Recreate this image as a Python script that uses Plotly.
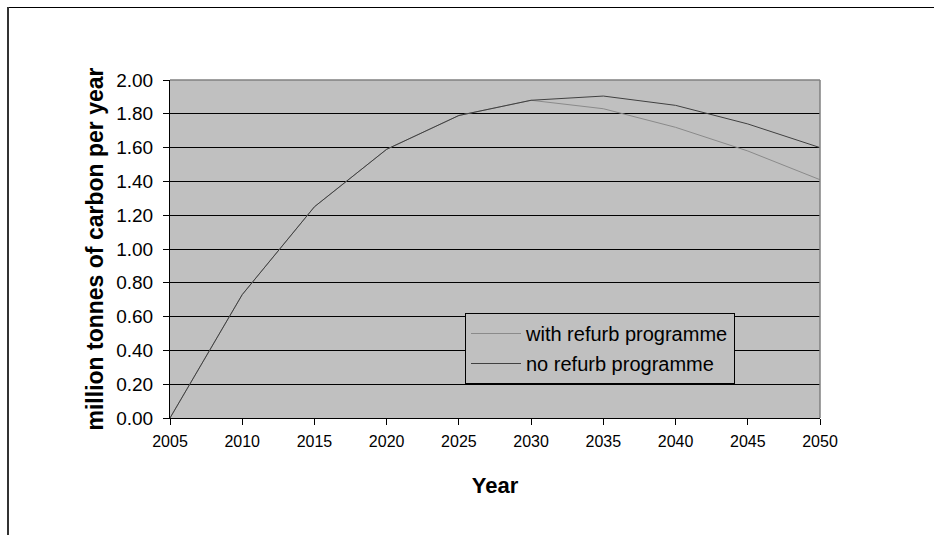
import plotly.graph_objects as go

# Annual carbon savings, million tonnes of carbon per year
years = [2005, 2010, 2015, 2020, 2025, 2030, 2035, 2040, 2045, 2050]
with_refurb = [0.00, 0.73, 1.25, 1.59, 1.79, 1.88, 1.83, 1.72, 1.58, 1.41]
no_refurb = [0.00, 0.73, 1.25, 1.59, 1.79, 1.88, 1.905, 1.85, 1.74, 1.60]

x_ticks = [2005, 2010, 2015, 2020, 2025, 2030, 2035, 2040, 2045, 2050]
y_ticks = [0.0, 0.2, 0.4, 0.6, 0.8, 1.0, 1.2, 1.4, 1.6, 1.8, 2.0]

W, H = 934, 535
L, R, T, B = 170, 114, 80, 117
PW, PH = W - L - R, H - T - B


def px_x(px):
    return (px - L) / PW


def px_y(py):
    return (H - B - py) / PH


FONT = "Liberation Sans, Arial, sans-serif"

fig = go.Figure()
fig.add_trace(go.Scatter(
    x=years, y=with_refurb, mode="lines", name="with refurb programme",
    line=dict(color="#8a8a8a", width=1), legendgroup="a"))
fig.add_trace(go.Scatter(
    x=years, y=no_refurb, mode="lines", name="no refurb programme",
    line=dict(color="#404040", width=1), legendgroup="b"))

shapes = [
    # gray top and right border of the plot area
    dict(type="line", xref="paper", yref="paper", x0=0, x1=1, y0=1, y1=1,
         line=dict(color="#808080", width=1.5)),
    dict(type="line", xref="paper", yref="paper", x0=1, x1=1, y0=0, y1=1,
         line=dict(color="#808080", width=1.5)),
    # outer chart frame
    dict(type="line", xref="paper", yref="paper",
         x0=px_x(7), x1=px_x(934), y0=px_y(7.5), y1=px_y(7.5),
         line=dict(color="black", width=1)),
    dict(type="line", xref="paper", yref="paper",
         x0=px_x(8), x1=px_x(8), y0=px_y(7), y1=px_y(535),
         line=dict(color="#333333", width=2)),
]

fig.update_layout(
    width=W, height=H,
    margin=dict(l=L, r=R, t=T, b=B, pad=0),
    paper_bgcolor="white",
    plot_bgcolor="#c0c0c0",
    font=dict(family=FONT, color="black", size=15),
    shapes=shapes,
    showlegend=True,
    legend=dict(
        x=px_x(465), y=px_y(313), xanchor="left", yanchor="top",
        bgcolor="#c0c0c0", bordercolor="black", borderwidth=1,
        font=dict(family=FONT, size=20, color="black"),
        traceorder="grouped", tracegroupgap=1, itemwidth=50,
    ),
    xaxis=dict(
        range=[2005, 2050], tickvals=x_ticks, ticktext=[str(v) for v in x_ticks],
        showgrid=False, zeroline=False,
        showline=True, linecolor="black", linewidth=1,
        ticks="outside", ticklen=6, tickcolor="black",
        tickfont=dict(size=16), ticklabelstandoff=3,
        title=dict(text="<b>Year</b>", font=dict(size=22), standoff=28),
    ),
    yaxis=dict(
        range=[0, 2], tickvals=y_ticks, ticktext=[f"{v:.2f}" for v in y_ticks],
        showgrid=True, gridcolor="black", gridwidth=1, zeroline=False,
        showline=True, linecolor="black", linewidth=1,
        ticks="outside", ticklen=6, tickcolor="black",
        tickfont=dict(size=19), ticklabelstandoff=6,
        title=dict(text="<b>million tonnes of carbon per year</b>", font=dict(size=23), standoff=6),
    ),
)

fig.write_html("out.html")
